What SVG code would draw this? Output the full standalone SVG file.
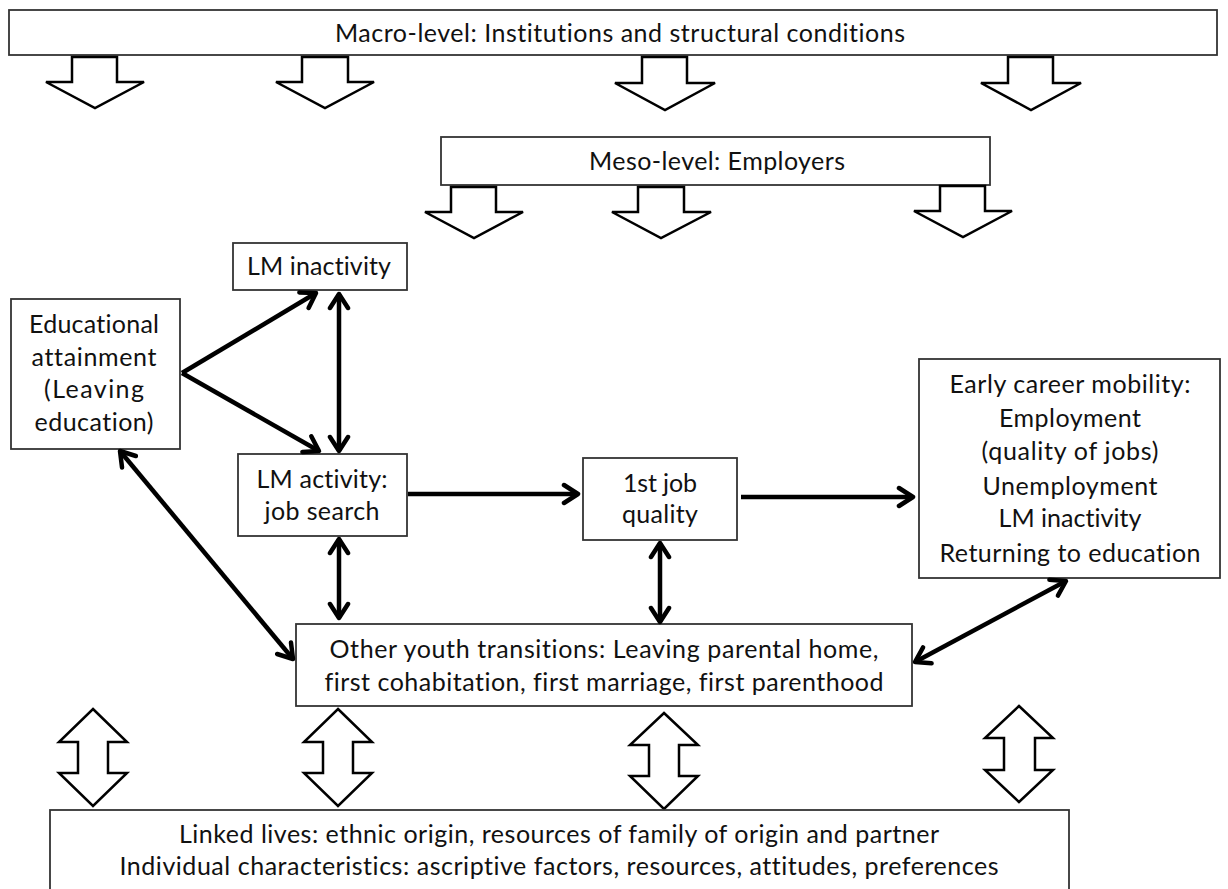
<svg xmlns="http://www.w3.org/2000/svg" width="1228" height="889" viewBox="0 0 1228 889">
<style>
.box{fill:#fff;stroke:#333;stroke-width:1.8}
.t{font-family:"Lato","Liberation Sans",sans-serif;font-size:25px;fill:#111;text-anchor:middle;font-variant-ligatures:none;font-feature-settings:"liga" 0,"clig" 0}
.blk{fill:#fff;stroke:#000;stroke-width:2.5;stroke-linejoin:miter}
.con{fill:none;stroke:#000;stroke-width:4.5;marker-end:url(#ah)}
.bi{marker-start:url(#ah)}
</style>
<defs>
<marker id="ah" viewBox="-18 -12 24 24" refX="0" refY="0" markerWidth="24" markerHeight="24" markerUnits="userSpaceOnUse" orient="auto-start-reverse">
<path d="M-14,-9 L0,0 L-14,9" fill="none" stroke="#000" stroke-width="4.5" stroke-linejoin="round" stroke-linecap="round"/>
</marker>
</defs>
<rect width="1228" height="889" fill="#fff"/>

<g id="macro">
<rect class="box" x="9" y="10" width="1208" height="45"/>
<text class="t" x="620" y="42" textLength="570">Macro-level: Institutions and structural conditions</text>
</g>
<g id="macro-arrows">
<path class="blk" d="M72,57 H117 V82 H144 L95,108 L46,82 H72 Z"/>
<path class="blk" d="M302,57 H348 V82 H374 L325,108 L276,82 H302 Z"/>
<path class="blk" d="M642,57 H687 V83 H715 L665,110 L615,83 H642 Z"/>
<path class="blk" d="M1008,57 H1053 V83 H1081 L1031,110 L981,83 H1008 Z"/>
</g>

<g id="meso">
<rect class="box" x="441" y="137" width="549" height="48"/>
<text class="t" x="717" y="170" textLength="256">Meso-level: Employers</text>
</g>
<g id="meso-arrows">
<path class="blk" d="M451,187 H496 V212 H523 L474,238 L425,212 H451 Z"/>
<path class="blk" d="M638,187 H684 V212 H711 L661,238 L612,212 H638 Z"/>
<path class="blk" d="M940,186 H985 V211 H1012 L963,237 L914,211 H940 Z"/>
</g>

<g id="lm-inactivity">
<rect class="box" x="233" y="243" width="174" height="47"/>
<text class="t" x="319" y="275" textLength="144">LM inactivity</text>
</g>

<g id="educational-attainment">
<rect class="box" x="11" y="299" width="169" height="150"/>
<text class="t" x="94" y="333" textLength="130">Educational</text>
<text class="t" x="94" y="366" textLength="125">attainment</text>
<text class="t" x="94" y="398" textLength="100">(Leaving</text>
<text class="t" x="94" y="431" textLength="119">education)</text>
</g>

<g id="lm-activity">
<rect class="box" x="238" y="454" width="169" height="82"/>
<text class="t" x="322" y="488" textLength="131">LM activity:</text>
<text class="t" x="322" y="520" textLength="115">job search</text>
</g>

<g id="first-job">
<rect class="box" x="583" y="458" width="154" height="82"/>
<text class="t" x="660" y="492" textLength="74">1st job</text>
<text class="t" x="660" y="523" textLength="76">quality</text>
</g>

<g id="early-career">
<rect class="box" x="919" y="359" width="301" height="219"/>
<text class="t" x="1070" y="393" textLength="241">Early career mobility:</text>
<text class="t" x="1070" y="427" textLength="142">Employment</text>
<text class="t" x="1070" y="460" textLength="177">(quality of jobs)</text>
<text class="t" x="1070" y="495" textLength="175">Unemployment</text>
<text class="t" x="1070" y="527" textLength="143">LM inactivity</text>
<text class="t" x="1070" y="562" textLength="261">Returning to education</text>
</g>

<g id="other-transitions">
<rect class="box" x="296" y="624" width="616" height="82"/>
<text class="t" x="604" y="658" textLength="549">Other youth transitions: Leaving parental home,</text>
<text class="t" x="604" y="691" textLength="559">first cohabitation, first marriage, first parenthood</text>
</g>

<g id="double-arrows">
<path class="blk" d="M93,709 L127,742 H108 V773 H127 L93,806 L59,773 H78 V742 H59 Z"/>
<path class="blk" d="M338,709 L372,742 H353 V773 H372 L338,806 L304,773 H323 V742 H304 Z"/>
<path class="blk" d="M664,713 L698,745 H679 V776 H698 L664,809 L630,776 H649 V745 H630 Z"/>
<path class="blk" d="M1019,706 L1053,738 H1035 V770 H1053 L1019,802 L985,770 H1004 V738 H985 Z"/>
</g>

<g id="linked-lives">
<rect class="box" x="50" y="810" width="1019" height="90"/>
<text class="t" x="559" y="843" textLength="760">Linked lives: ethnic origin, resources of family of origin and partner</text>
<text class="t" x="559" y="875" textLength="879">Individual characteristics: ascriptive factors, resources, attitudes, preferences</text>
</g>

<g id="connectors">
<line class="con" x1="182" y1="373" x2="316" y2="293"/>
<line class="con" x1="182" y1="373" x2="319" y2="451"/>
<line class="con bi" x1="339" y1="294" x2="339" y2="451"/>
<line class="con bi" x1="120" y1="451" x2="293" y2="659"/>
<line class="con" x1="408" y1="494" x2="578" y2="494"/>
<line class="con bi" x1="339" y1="539" x2="339" y2="618"/>
<line class="con" x1="741" y1="497" x2="913" y2="497"/>
<line class="con bi" x1="660" y1="543" x2="660" y2="622"/>
<line class="con bi" x1="1066" y1="581" x2="915" y2="662"/>
</g>
</svg>
